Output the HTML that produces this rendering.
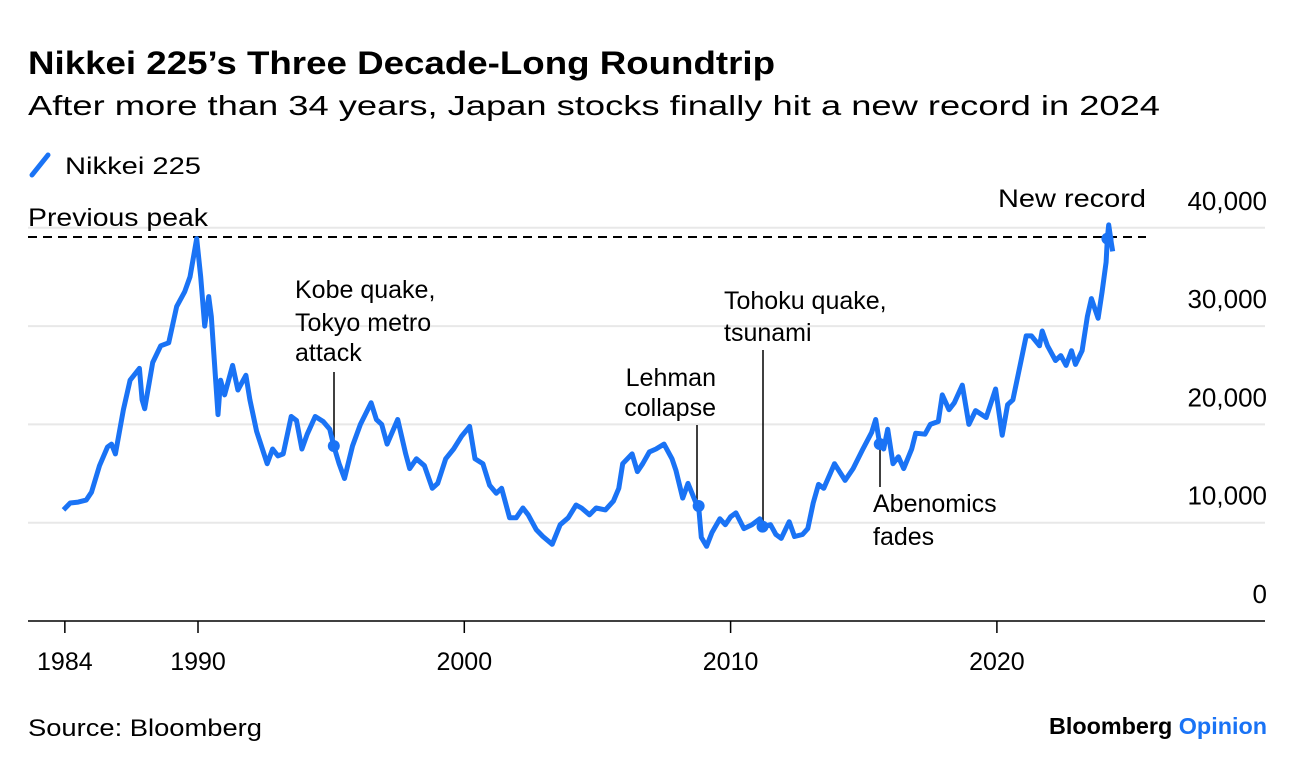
<!DOCTYPE html>
<html><head><meta charset="utf-8"><style>
body{margin:0;background:#fff;width:1296px;height:770px;overflow:hidden;font-family:"Liberation Sans",sans-serif}
</style></head><body>
<svg width="1296" height="770" style="font-family:'Liberation Sans',sans-serif">
<text x="28" y="74" font-size="32" font-weight="bold" fill="#000" textLength="747" lengthAdjust="spacingAndGlyphs">Nikkei 225’s Three Decade-Long Roundtrip</text>
<text x="28" y="115" font-size="28" fill="#000" textLength="1132" lengthAdjust="spacingAndGlyphs">After more than 34 years, Japan stocks finally hit a new record in 2024</text>
<g>
<line x1="32" y1="175" x2="48" y2="155" stroke="#1a73f5" stroke-width="5" stroke-linecap="round"/>
<text x="65" y="174" font-size="24" textLength="136" lengthAdjust="spacingAndGlyphs">Nikkei 225</text></g>
<g id="grid"></g><g id="ylab"></g><g id="xlab"></g>
<line x1="28" y1="621" x2="1265" y2="621" stroke="#000" stroke-width="1.5"/>
<line x1="28" y1="237" x2="1146" y2="237" stroke="#000" stroke-width="2" stroke-dasharray="9,6"/>
<text x="28" y="226" font-size="25" textLength="180" lengthAdjust="spacingAndGlyphs">Previous peak</text>
<text x="998" y="207" font-size="25" textLength="148" lengthAdjust="spacingAndGlyphs">New record</text>
<g font-size="25">
<text x="295" y="298">Kobe quake,</text><text x="295" y="331">Tokyo metro</text><text x="295" y="361">attack</text>
<line x1="334" y1="372" x2="334" y2="444" stroke="#000" stroke-width="1.5"/>
<text x="716" y="386" text-anchor="end">Lehman</text><text x="716" y="416" text-anchor="end">collapse</text>
<line x1="697" y1="425" x2="697" y2="502" stroke="#000" stroke-width="1.5"/>
<text x="724" y="309">Tohoku quake,</text><text x="724" y="341">tsunami</text>
<line x1="763" y1="350" x2="763" y2="522" stroke="#000" stroke-width="1.5"/>
<line x1="880" y1="445" x2="880" y2="487" stroke="#000" stroke-width="1.5"/>
<text x="873" y="512">Abenomics</text><text x="873" y="545">fades</text>
</g>
<g id="series"></g>
<text x="28" y="736" font-size="24" textLength="234" lengthAdjust="spacingAndGlyphs">Source: Bloomberg</text>
<text x="1049" y="734" font-size="23" font-weight="bold" textLength="218" lengthAdjust="spacingAndGlyphs">Bloomberg <tspan fill="#1a73f5">Opinion</tspan></text>
</svg>
<script>
const years=[1984.95,1985.2,1985.5,1985.8,1986.0,1986.3,1986.6,1986.75,1986.9,1987.2,1987.45,1987.8,1987.9,1988.0,1988.3,1988.6,1988.9,1989.2,1989.5,1989.7,1989.95,1990.1,1990.25,1990.4,1990.5,1990.75,1990.85,1991.0,1991.3,1991.5,1991.8,1991.95,1992.2,1992.6,1992.8,1993.0,1993.2,1993.5,1993.7,1993.9,1994.1,1994.4,1994.7,1994.95,1995.1,1995.3,1995.5,1995.8,1996.1,1996.5,1996.7,1996.9,1997.1,1997.5,1997.8,1997.95,1998.2,1998.5,1998.8,1999.0,1999.3,1999.6,1999.9,2000.2,2000.4,2000.7,2000.95,2001.2,2001.4,2001.7,2001.95,2002.2,2002.4,2002.7,2002.95,2003.3,2003.6,2003.9,2004.2,2004.4,2004.7,2004.95,2005.3,2005.6,2005.8,2005.95,2006.3,2006.5,2006.7,2006.95,2007.2,2007.5,2007.8,2007.95,2008.2,2008.4,2008.7,2008.8,2008.9,2009.1,2009.3,2009.6,2009.8,2010.0,2010.2,2010.5,2010.8,2011.1,2011.2,2011.5,2011.7,2011.9,2012.2,2012.4,2012.7,2012.9,2013.1,2013.3,2013.5,2013.9,2014.3,2014.6,2014.95,2015.3,2015.45,2015.6,2015.75,2015.9,2016.1,2016.3,2016.5,2016.8,2016.95,2017.3,2017.5,2017.8,2017.95,2018.2,2018.4,2018.7,2018.95,2019.2,2019.6,2019.95,2020.2,2020.4,2020.6,2020.9,2021.1,2021.3,2021.6,2021.7,2021.9,2022.2,2022.4,2022.6,2022.8,2022.95,2023.2,2023.4,2023.55,2023.8,2023.95,2024.1,2024.15,2024.2,2024.3,2024.35];
const values=[11.3,12.0,12.1,12.3,13.1,15.8,17.7,18.0,17.0,21.5,24.5,25.7,22.5,21.6,26.3,28.0,28.3,32.0,33.5,35.0,38.9,35.0,30.0,33.0,31.0,21.0,24.5,23.0,26.0,23.5,25.0,22.5,19.3,16.0,17.5,16.8,17.0,20.8,20.4,17.5,19.0,20.8,20.3,19.5,17.8,16.0,14.5,17.8,20.0,22.2,20.5,20.0,18.0,20.5,17.0,15.5,16.5,15.8,13.5,14.0,16.5,17.5,18.8,19.8,16.5,16.0,13.8,13.0,13.5,10.5,10.5,11.5,10.8,9.3,8.6,7.8,9.8,10.5,11.8,11.5,10.8,11.5,11.3,12.2,13.5,16.0,17.0,15.2,16.0,17.2,17.5,18.0,16.5,15.3,12.5,14.0,12.0,11.7,8.5,7.6,9.0,10.4,9.8,10.6,11.0,9.4,9.8,10.4,9.6,9.8,8.8,8.4,10.1,8.6,8.8,9.4,12.0,13.9,13.5,16.0,14.3,15.5,17.4,19.2,20.5,18.0,17.5,19.5,16.0,16.7,15.5,17.5,19.1,19.0,20.0,20.3,23.0,21.5,22.2,24.0,20.0,21.4,20.7,23.6,18.9,22.0,22.5,26.4,29.0,29.0,28.0,29.5,28.0,26.5,27.0,26.0,27.5,26.1,27.5,31.0,32.8,30.8,33.5,36.5,39.0,40.3,38.4,37.6];
const yTicks=[0,10000,20000,30000,40000];
const yTickLabels=["0","10,000","20,000","30,000","40,000"];
const xTicks=[1985,1990,2000,2010,2020];
const xTickLabels=["1984","1990","2000","2010","2020"];
const eventYears=[1995.1,2008.8,2011.2,2015.6,2024.15];
const eventValues=[17.8,11.7,9.6,18.0,38.9];
const NS="http://www.w3.org/2000/svg";
const X=y=>198+(y-1990)*26.63;
const Y=v=>621-v*0.00983;
const grid=document.getElementById('grid'),ylab=document.getElementById('ylab'),xlab=document.getElementById('xlab'),ser=document.getElementById('series');
yTicks.forEach((t,i)=>{
 if(t>0){const l=document.createElementNS(NS,'line');
 
 
 l.setAttribute('x1',28);l.setAttribute('x2',1265);l.setAttribute('y1',Y(t));l.setAttribute('y2',Y(t));
 l.setAttribute('stroke','#e8e8e8');l.setAttribute('stroke-width','2');grid.appendChild(l);}
 const tx=document.createElementNS(NS,'text');
 
 
 tx.setAttribute('x',1267);tx.setAttribute('y',Y(t)-18);tx.setAttribute('text-anchor','end');tx.setAttribute('font-size','26');
 tx.textContent=yTickLabels[i];ylab.appendChild(tx);
});
xTicks.forEach((t,i)=>{
 const l=document.createElementNS(NS,'line');
 
 
 l.setAttribute('x1',X(t));l.setAttribute('x2',X(t));l.setAttribute('y1',621);l.setAttribute('y2',633);
 l.setAttribute('stroke','#000');l.setAttribute('stroke-width','1.5');xlab.appendChild(l);
 const tx=document.createElementNS(NS,'text');
 
 
 tx.setAttribute('x',X(t));tx.setAttribute('y',670);tx.setAttribute('text-anchor','middle');tx.setAttribute('font-size','25');
 tx.textContent=xTickLabels[i];xlab.appendChild(tx);
});
const p=document.createElementNS(NS,'path');


p.setAttribute('d',years.map((y,i)=>(i?'L':'M')+X(y).toFixed(1)+','+Y(values[i]*1000).toFixed(1)).join(''));
p.setAttribute('fill','none');p.setAttribute('stroke','#1a73f5');p.setAttribute('stroke-width','5');p.setAttribute('stroke-linejoin','round');
ser.appendChild(p);
eventYears.forEach((y,i)=>{
 const c=document.createElementNS(NS,'circle');
 
 
 c.setAttribute('cx',X(y));c.setAttribute('cy',Y(eventValues[i]*1000));c.setAttribute('r',6);c.setAttribute('fill','#1a73f5');
 ser.appendChild(c);
});
</script>
</body></html>
